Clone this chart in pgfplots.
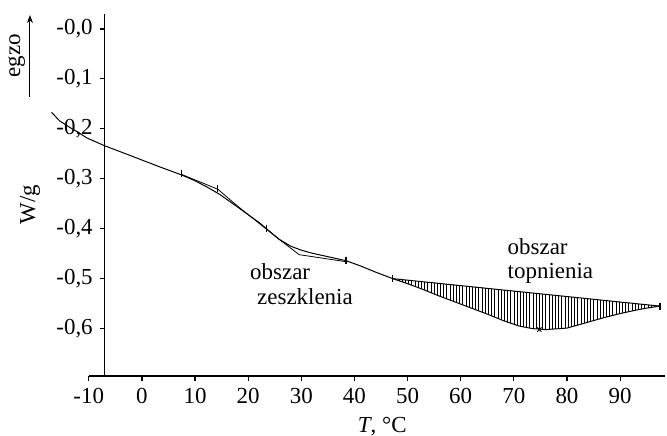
\documentclass[border=0pt]{standalone}
\usepackage{fontspec}
\setmainfont{Liberation Serif}
\usepackage{pgfplots}
\pgfplotsset{compat=1.18}
\usepgfplotslibrary{fillbetween}
\usetikzlibrary{patterns.meta,arrows.meta}

\begin{document}
\begin{tikzpicture}
  \begin{axis}[
      scale only axis,
      width=289pt, height=181.5pt,
      xmin=-10, xmax=98.5,
      ymin=-0.695, ymax=0.03,
      axis x line=bottom, axis y line=left,
      axis y line shift=-8pt,
      axis line style={line width=0.6pt, -},
      tick align=outside,
      major tick length=2.5pt,
      tick style={line width=0.6pt, black},
      xtick={-10,0,10,20,30,40,50,60,70,80,90},
      xticklabels={-10,0,10,20,30,40,50,60,70,80,90},
      ytick={-0.6,-0.5,-0.4,-0.3,-0.2,-0.1,0},
      yticklabels={{-0,6},{-0,5},{-0,4},{-0,3},{-0,2},{-0,1},{-0,0}},
      ticklabel style={font=\fontsize{11.5}{13}\selectfont},
      clip=false,
    ]
    % krzywa DSC
    \addplot[name path=dsc, black, line width=0.5pt] coordinates {
      (-17.0,-0.167) (-15.5,-0.184) (-13.6,-0.197) (-12.0,-0.207) (-10.4,-0.218)
      (-7.0,-0.234) (-2.3,-0.253) (3.3,-0.276) (7.4,-0.292) (10.0,-0.304)
      (12.5,-0.318) (14.6,-0.331) (17.8,-0.355) (20.0,-0.372) (22.1,-0.388)
      (24.0,-0.405) (25.8,-0.421) (28.0,-0.435) (30.0,-0.443) (32.0,-0.449)
      (35.0,-0.456) (38.4,-0.464) (41.0,-0.474) (44.0,-0.487) (47.2,-0.500)
      (50.0,-0.510) (53.0,-0.522) (56.0,-0.535) (60.0,-0.551) (62.0,-0.559)
      (65.0,-0.571) (68.0,-0.584) (71.0,-0.595) (73.5,-0.600) (76.0,-0.602)
      (80.0,-0.599) (84.0,-0.587) (87.0,-0.578) (90.0,-0.570) (93.0,-0.563)
      (95.0,-0.559) (97.5,-0.555)
    };
    % styczne w obszarze zeszklenia
    \addplot[black, line width=0.4pt] coordinates {
      (7.4,-0.291) (14.3,-0.321) (17.8,-0.353) (25.8,-0.421) (29.6,-0.452) (38.4,-0.466)
    };
    % linia bazowa topnienia
    \addplot[name path=base, black, line width=0.5pt] coordinates {
      (47.2,-0.500) (97.5,-0.555)
    };
    \addplot[draw=none, pattern={Lines[angle=90,distance=1.6pt,line width=0.35pt]}]
      fill between[of=dsc and base, soft clip={domain=47.2:97.5}];
    % znaczniki
    \addplot[only marks, mark=|, mark size=1.8pt, black, mark options={line width=0.6pt}] coordinates {
      (7.4,-0.289) (14.3,-0.320) (23.4,-0.399) (38.4,-0.463) (47.2,-0.500) (97.5,-0.555)
    };
    \addplot[only marks, mark=x, mark size=1.5pt, black] coordinates {(74.8,-0.602)};

    \node[rotate=90, font=\fontsize{11.5}{13}\selectfont] at (rel axis cs:-0.102,0.474) {W/g};
    \node[rotate=90, font=\fontsize{11.5}{13}\selectfont] at (rel axis cs:-0.125,0.885) {egzo};
    \draw[-{Stealth[length=4pt,width=3pt]}, line width=0.5pt] (rel axis cs:-0.102,0.771) -- (rel axis cs:-0.102,0.997);
    \node[font=\fontsize{11.5}{13}\selectfont] at (rel axis cs:0.509,-0.140) {\textit{T}, °C};
    \node[font=\fontsize{11.5}{13}\selectfont] at (rel axis cs:0.332,0.287) {obszar};
    \node[font=\fontsize{11.5}{13}\selectfont] at (rel axis cs:0.375,0.218) {zeszklenia};
    \node[anchor=west, font=\fontsize{11.5}{13}\selectfont] at (rel axis cs:0.7145,0.358) {obszar};
    \node[anchor=west, font=\fontsize{11.5}{13}\selectfont] at (rel axis cs:0.7145,0.284) {topnienia};

    \coordinate (bbA) at (rel axis cs:-0.154,-0.165);
    \coordinate (bbB) at (rel axis cs:1.003,1.0386);
  \end{axis}
  \pgfresetboundingbox
  \useasboundingbox (bbA) rectangle (bbB);
\end{tikzpicture}
\end{document}
